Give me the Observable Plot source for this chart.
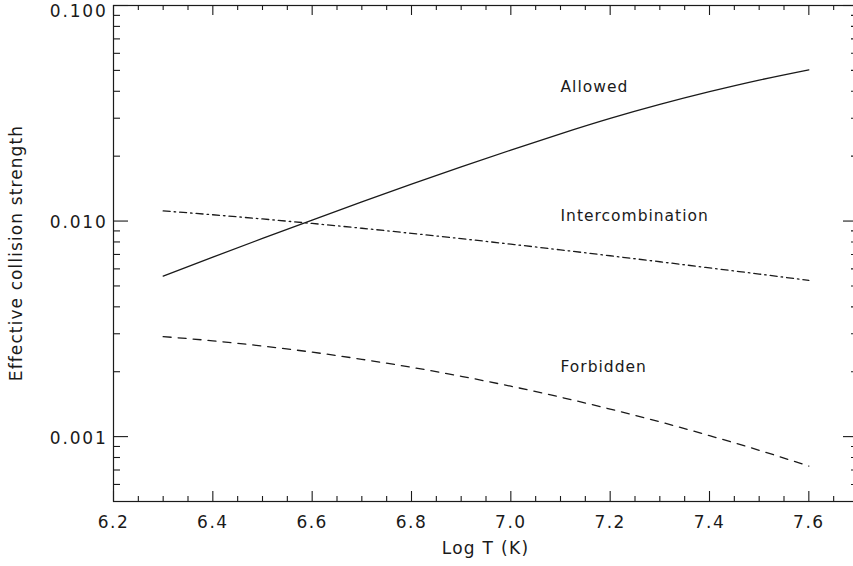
<!DOCTYPE html>
<html>
<head>
<meta charset="utf-8">
<script src="https://cdn.jsdelivr.net/npm/d3@7"></script>
<script src="https://cdn.jsdelivr.net/npm/@observablehq/plot@0.6"></script>
<style>
  html, body { margin: 0; padding: 0; background: #fff; overflow: hidden; }
  #chart { width: 853px; height: 566px; overflow: hidden; }
</style>
</head>
<body>
<div id="chart"></div>
<script>
// Temperature grid (log10 T, K)
const logT = [6.3, 6.4, 6.5, 6.6, 6.7, 6.8, 6.9, 7.0, 7.1, 7.2, 7.3, 7.4, 7.5, 7.6];

// Effective collision strengths for each transition type
const allowed = [0.005556, 0.006802, 0.008306, 0.010106, 0.012265, 0.014822, 0.017824,
                 0.02133, 0.02539, 0.02993, 0.03475, 0.03981, 0.04506, 0.0503];
const intercombination = [0.01114, 0.010696, 0.010226, 0.009747, 0.00926, 0.008769, 0.008287,
                          0.007812, 0.00735, 0.006902, 0.006475, 0.006064, 0.005677, 0.005307];
const forbidden = [0.002911, 0.002782, 0.002632, 0.002465, 0.002284, 0.002097, 0.001905,
                   0.001713, 0.001524, 0.001342, 0.001171, 0.00101, 0.000864, 0.00073];

// In-plot series labels
const seriesNames = ["Allowed", "Intercombination", "Forbidden"];
const labelLogT = [7.1, 7.1, 7.1];
const labelValue = [0.042, 0.0105, 0.00211];

// Axis ticks
const xMajor = [6.2, 6.4, 6.6, 6.8, 7.0, 7.2, 7.4, 7.6];
const xMajorLabels = ["6.2", "6.4", "6.6", "6.8", "7.0", "7.2", "7.4", "7.6"];
const xMinor = [6.25, 6.3, 6.35, 6.45, 6.5, 6.55, 6.65, 6.7, 6.75, 6.85, 6.9, 6.95,
                7.05, 7.1, 7.15, 7.25, 7.3, 7.35, 7.45, 7.5, 7.55, 7.65];
const yMajor = [0.001, 0.01, 0.1];
const yMajorLabels = ["0.001", "0.010", "0.100"];
const yLabelShift = [2, 1, 6];
const yMinor = [0.0006, 0.0007, 0.0008, 0.0009,
                0.002, 0.003, 0.004, 0.005, 0.006, 0.007, 0.008, 0.009,
                0.02, 0.03, 0.04, 0.05, 0.06, 0.07, 0.08, 0.09];

const W = 853, H = 566;
const mL = 113, mR = -5, mT = 5, mB = 65;
const plotW = W - mL - mR, plotH = H - mT - mB;
const ink = "#1a1a1a";
const font = "DejaVu Sans, Verdana, sans-serif";

const rows = (vals) => logT.map((t, i) => ({t, v: vals[i]}));

const xTicks = (values, len, side) => Plot.tickX(values, {
  x: d => d, stroke: ink, strokeWidth: 1.1,
  ...(side === "bottom" ? {insetTop: plotH - len} : {insetBottom: plotH - len})
});
const yTicks = (values, len, side) => Plot.tickY(values, {
  y: d => d, stroke: ink, strokeWidth: 1.1,
  ...(side === "left" ? {insetRight: plotW - len} : {insetLeft: plotW - len})
});

const chart = Plot.plot({
  width: W,
  height: H,
  marginLeft: mL,
  marginRight: mR,
  marginTop: mT,
  marginBottom: mB,
  style: {fontFamily: font, background: "#fff", overflow: "hidden"},
  x: {domain: [6.2, 7.7], axis: null},
  y: {type: "log", domain: [0.0005, 0.1], axis: null},
  marks: [
    Plot.frame({stroke: ink, strokeWidth: 1.2}),
    xTicks(xMajor, 10, "bottom"), xTicks(xMinor, 5, "bottom"),
    xTicks(xMajor, 10, "top"), xTicks(xMinor, 5, "top"),
    yTicks(yMajor, 15, "left"), yTicks(yMinor, 7, "left"),
    yTicks(yMajor, 15, "right"), yTicks(yMinor, 7, "right"),

    Plot.text(xMajor, {
      x: d => d, frameAnchor: "bottom", dy: 21,
      text: (d, i) => xMajorLabels[i],
      fontSize: 17, fill: ink, textAnchor: "middle", lineAnchor: "middle"
    }),
    Plot.text(yMajor, {
      y: d => d, frameAnchor: "left", dx: -6,
      dy: 0,
      text: (d, i) => yMajorLabels[i],
      fontSize: 17, fill: ink, textAnchor: "end", lineAnchor: "middle",
      className: "ylab"
    }),

    Plot.line(rows(allowed), {x: "t", y: "v", stroke: ink, strokeWidth: 1.3, curve: "monotone-x"}),
    Plot.line(rows(intercombination), {x: "t", y: "v", stroke: ink, strokeWidth: 1.3, curve: "monotone-x", strokeDasharray: "7,4,1.5,4"}),
    Plot.line(rows(forbidden), {x: "t", y: "v", stroke: ink, strokeWidth: 1.3, curve: "monotone-x", strokeDasharray: "8,7"}),

    Plot.text(seriesNames, {
      x: (d, i) => labelLogT[i], y: (d, i) => labelValue[i],
      text: d => d, textAnchor: "start", lineAnchor: "middle",
      fontSize: 15.5, fill: ink
    })
  ]
});

// letter spacing for the wide stroke-font look
chart.querySelectorAll("text").forEach(t => t.setAttribute("letter-spacing", "1"));
chart.querySelectorAll("g.ylab text").forEach((t, i) => {
  t.setAttribute("letter-spacing", "1.8");
  t.setAttribute("dy", String(yLabelShift[i]));
});
chart.querySelectorAll("g[aria-label='text'] text").forEach(t => {
  if (xMajorLabels.includes(t.textContent)) t.setAttribute("letter-spacing", "1.5");
});

// Axis titles
const svg = d3.select(chart);
svg.append("text")
  .attr("x", (mL + 858) / 2).attr("y", 549)
  .attr("text-anchor", "middle").attr("dominant-baseline", "middle")
  .attr("font-size", 17).attr("letter-spacing", "1.3").attr("fill", ink)
  .attr("font-family", font)
  .text("Log T (K)");
svg.append("text")
  .attr("transform", `translate(17,${mT + plotH / 2}) rotate(-90)`)
  .attr("text-anchor", "middle").attr("dominant-baseline", "middle")
  .attr("font-size", 17).attr("letter-spacing", "1.1").attr("fill", ink)
  .attr("font-family", font)
  .text("Effective collision strength");

document.getElementById("chart").appendChild(chart);
</script>
</body>
</html>
